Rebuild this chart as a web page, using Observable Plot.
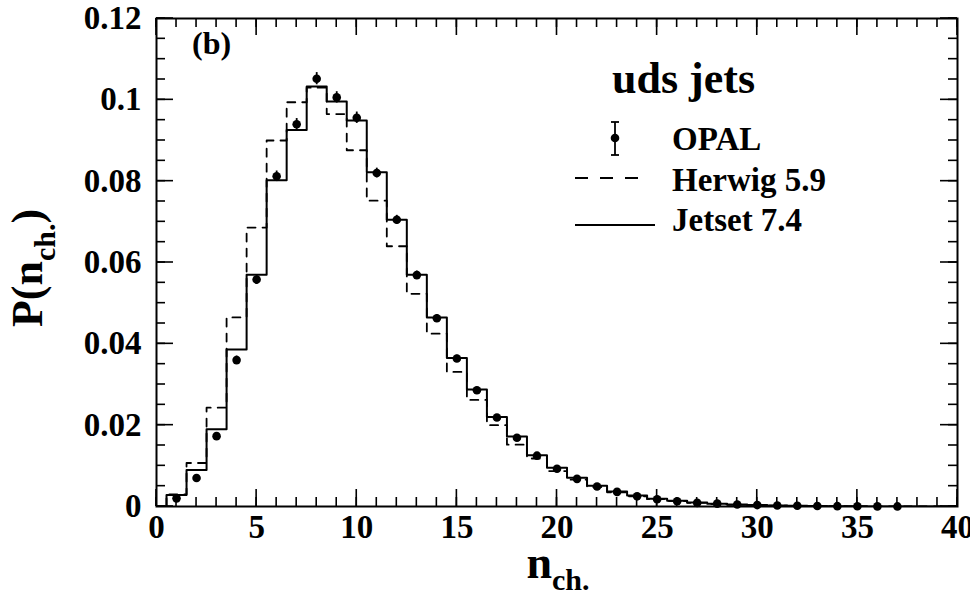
<!DOCTYPE html>
<html><head><meta charset="utf-8">
<script src="https://cdn.jsdelivr.net/npm/d3@7"></script>
<script src="https://cdn.jsdelivr.net/npm/@observablehq/plot@0.6"></script>
<style>body{margin:0;background:#fff} #chart svg{display:block}</style>
</head><body><div id="chart"></div>
<script>
// charged multiplicity bins
const nCh = [1,2,3,4,5,6,7,8,9,10,11,12,13,14,15,16,17,18,19,20,21,22,23,24,25,26,27,28,29,30,31,32,33,34,35,36,37,38,39,40];
// OPAL data (n = 1..37)
const opalP = [0.0020,0.0070,0.0173,0.0360,0.0558,0.0812,0.0940,0.1052,0.1006,0.0956,0.0820,0.0705,0.0569,0.0463,0.0364,0.0286,0.0219,0.0169,0.0125,0.0093,0.0068,0.0049,0.0036,0.0025,0.0018,0.0013,0.0009,0.0007,0.0005,0.00035,0.00025,0.00018,0.00012,0.00008,0.00005,0.00003,0.00002];
const opalErr = [0.0005,0.0006,0.0008,0.0010,0.0012,0.0013,0.0014,0.0015,0.0014,0.0014,0.0012,0.0011,0.0010,0.0009,0.0008,0.0007,0.0006,0.0006,0.0005,0.0005,0.0004,0.0004,0.0004,0.0004,0.0004,0.0003,0.0003,0.0003,0.0003,0.0003,0.0003,0.0003,0.0003,0.0003,0.0003,0.0003,0.0003];
// Jetset 7.4 (n = 1..40)
const jetsetP = [0.0028,0.0090,0.0190,0.0386,0.0570,0.0802,0.0926,0.1033,0.0996,0.0949,0.0822,0.0705,0.0570,0.0465,0.0365,0.0288,0.0220,0.0172,0.0126,0.0095,0.0071,0.0051,0.0037,0.0027,0.0019,0.0014,0.0010,0.0007,0.0005,0.00035,0.00025,0.00018,0.00012,0.00008,0.00005,0.00003,0.00002,0.00001,0.00001,0.00001];
// Herwig 5.9 (n = 1..40)
const herwigP = [0.0030,0.0107,0.0243,0.0465,0.0686,0.0900,0.0994,0.1030,0.0965,0.0876,0.0752,0.0640,0.0523,0.0425,0.0331,0.0262,0.0200,0.0152,0.0118,0.0087,0.0066,0.0048,0.0035,0.0025,0.0018,0.0013,0.0009,0.0006,0.0004,0.0003,0.0002,0.00015,0.0001,0.00007,0.00005,0.00003,0.00002,0.00001,0.00001,0.00001];

const xMajorTicks = [0,5,10,15,20,25,30,35,40];
const xMinorTicks = [0,1,2,3,4,5,6,7,8,9,10,11,12,13,14,15,16,17,18,19,20,21,22,23,24,25,26,27,28,29,30,31,32,33,34,35,36,37,38,39,40];
const xTickLabels = ["0","5","10","15","20","25","30","35","40"];
const yMajorTicks = [0,0.02,0.04,0.06,0.08,0.1,0.12];
const yMinorTicks = [0,0.005,0.01,0.015,0.02,0.025,0.03,0.035,0.04,0.045,0.05,0.055,0.06,0.065,0.07,0.075,0.08,0.085,0.09,0.095,0.1,0.105,0.11,0.115,0.12];
const yTickLabels = ["0","0.02","0.04","0.06","0.08","0.1","0.12"];

const opal = opalP.map((p, i) => ({n: nCh[i], p, lo: p - opalErr[i], hi: p + opalErr[i]}));
function steps(vals) {
  const pts = [{x: nCh[0] - 0.5, y: 0}];
  vals.forEach((v, i) => pts.push({x: nCh[i] - 0.5, y: v}));
  pts.push({x: nCh[vals.length - 1] + 0.5, y: vals[vals.length - 1]});
  return pts;
}
const xLab = new Map(xMajorTicks.map((t, i) => [t, xTickLabels[i]]));
const yLab = new Map(yMajorTicks.map((t, i) => [t, yTickLabels[i]]));

const font = "'Liberation Serif', 'Times New Roman', serif";
const chartW = 970, chartH = 599, mL = 156, mR = 13, mT = 18, mB = 93;
const xDomain = [0, 40], yDomain = [0, 0.12];
const chart = Plot.plot({
  width: chartW, height: chartH,
  marginLeft: mL, marginRight: mR, marginTop: mT, marginBottom: mB,
  x: {domain: xDomain},
  y: {domain: yDomain},
  style: {fontFamily: font, fontWeight: "bold", fontSize: "33px", background: "white", color: "black", overflow: "visible"},
  marks: [
    Plot.axisX(xMajorTicks, {anchor: "bottom", tickSize: 0, tickPadding: 8, tickFormat: d => xLab.get(d), label: null}),
    Plot.axisY(yMajorTicks, {anchor: "left", tickSize: 0, tickPadding: 15, tickFormat: d => yLab.get(d), label: null}),
    Plot.line(steps(herwigP), {x: "x", y: "y", curve: "step-after", stroke: "black", strokeWidth: 1.8, strokeDasharray: "8,7", clip: true}),
    Plot.line(steps(jetsetP), {x: "x", y: "y", curve: "step-after", stroke: "black", strokeWidth: 2, clip: true}),
    Plot.ruleX(opal, {x: "n", y1: "lo", y2: "hi", stroke: "black", strokeWidth: 1.8}),
    Plot.dot(opal, {x: "n", y: "p", r: 4.3, fill: "black", stroke: "none"}),
    Plot.frame({stroke: "black", strokeWidth: 2})
  ]
});
document.getElementById("chart").appendChild(chart);

const svg = d3.select(chart);
// inward frame ticks on all four sides (same linear mapping as the plot's x and y scales)
const tx = d3.scaleLinear().domain(xDomain).range([mL, chartW - mR]);
const ty = d3.scaleLinear().domain(yDomain).range([chartH - mB, mT]);
const tg = svg.append("g");
function addLine(x1, y1, x2, y2) {
  tg.append("line").attr("x1", x1).attr("y1", y1).attr("x2", x2).attr("y2", y2)
    .attr("stroke", "black").attr("stroke-width", 1.6);
}
function xTicks(vals, len) {
  for (const v of vals) {
    const px = tx(v);
    addLine(px, chartH - mB, px, chartH - mB - len);
    addLine(px, mT, px, mT + len);
  }
}
function yTicks(vals, len) {
  for (const v of vals) {
    const py = ty(v);
    addLine(mL, py, mL + len, py);
    addLine(chartW - mR, py, chartW - mR - len, py);
  }
}
xTicks(xMinorTicks, 9); xTicks(xMajorTicks, 17);
yTicks(yMinorTicks, 9); yTicks(yMajorTicks, 17);

// annotations, legend and axis titles
const g = svg.append("g").attr("font-family", font).attr("font-weight", "bold").attr("fill", "black").attr("text-anchor", "start");
g.append("text").attr("x", 192).attr("y", 54).attr("font-size", 32).text("(b)");
g.append("text").attr("x", 612).attr("y", 93).attr("font-size", 44).text("uds jets");
g.append("line").attr("x1", 615).attr("x2", 615).attr("y1", 122).attr("y2", 155).attr("stroke", "black").attr("stroke-width", 1.8);
g.append("line").attr("x1", 611).attr("x2", 619).attr("y1", 122).attr("y2", 122).attr("stroke", "black").attr("stroke-width", 1.8);
g.append("line").attr("x1", 611).attr("x2", 619).attr("y1", 155).attr("y2", 155).attr("stroke", "black").attr("stroke-width", 1.8);
g.append("circle").attr("cx", 615).attr("cy", 138).attr("r", 4.3);
g.append("text").attr("x", 672).attr("y", 150).attr("font-size", 33).text("OPAL");
g.append("line").attr("x1", 575).attr("x2", 642).attr("y1", 178).attr("y2", 178).attr("stroke", "black").attr("stroke-width", 1.8).attr("stroke-dasharray", "13,12");
g.append("text").attr("x", 672).attr("y", 191).attr("font-size", 33).text("Herwig 5.9");
g.append("line").attr("x1", 575).attr("x2", 655).attr("y1", 225).attr("y2", 225).attr("stroke", "black").attr("stroke-width", 2);
g.append("text").attr("x", 672).attr("y", 231).attr("font-size", 33).text("Jetset 7.4");
const xt = g.append("text").attr("x", 558).attr("y", 578).attr("text-anchor", "middle").attr("font-size", 46);
xt.append("tspan").text("n");
xt.append("tspan").attr("dy", 12).attr("font-size", 30).text("ch.");
const yt = g.append("text").attr("transform", "translate(42,268) rotate(-90)").attr("text-anchor", "middle").attr("font-size", 44);
yt.append("tspan").text("P(n");
yt.append("tspan").attr("dy", 13).attr("font-size", 30).text("ch.");
yt.append("tspan").attr("dy", -13).text(")");
</script>
</body></html>
